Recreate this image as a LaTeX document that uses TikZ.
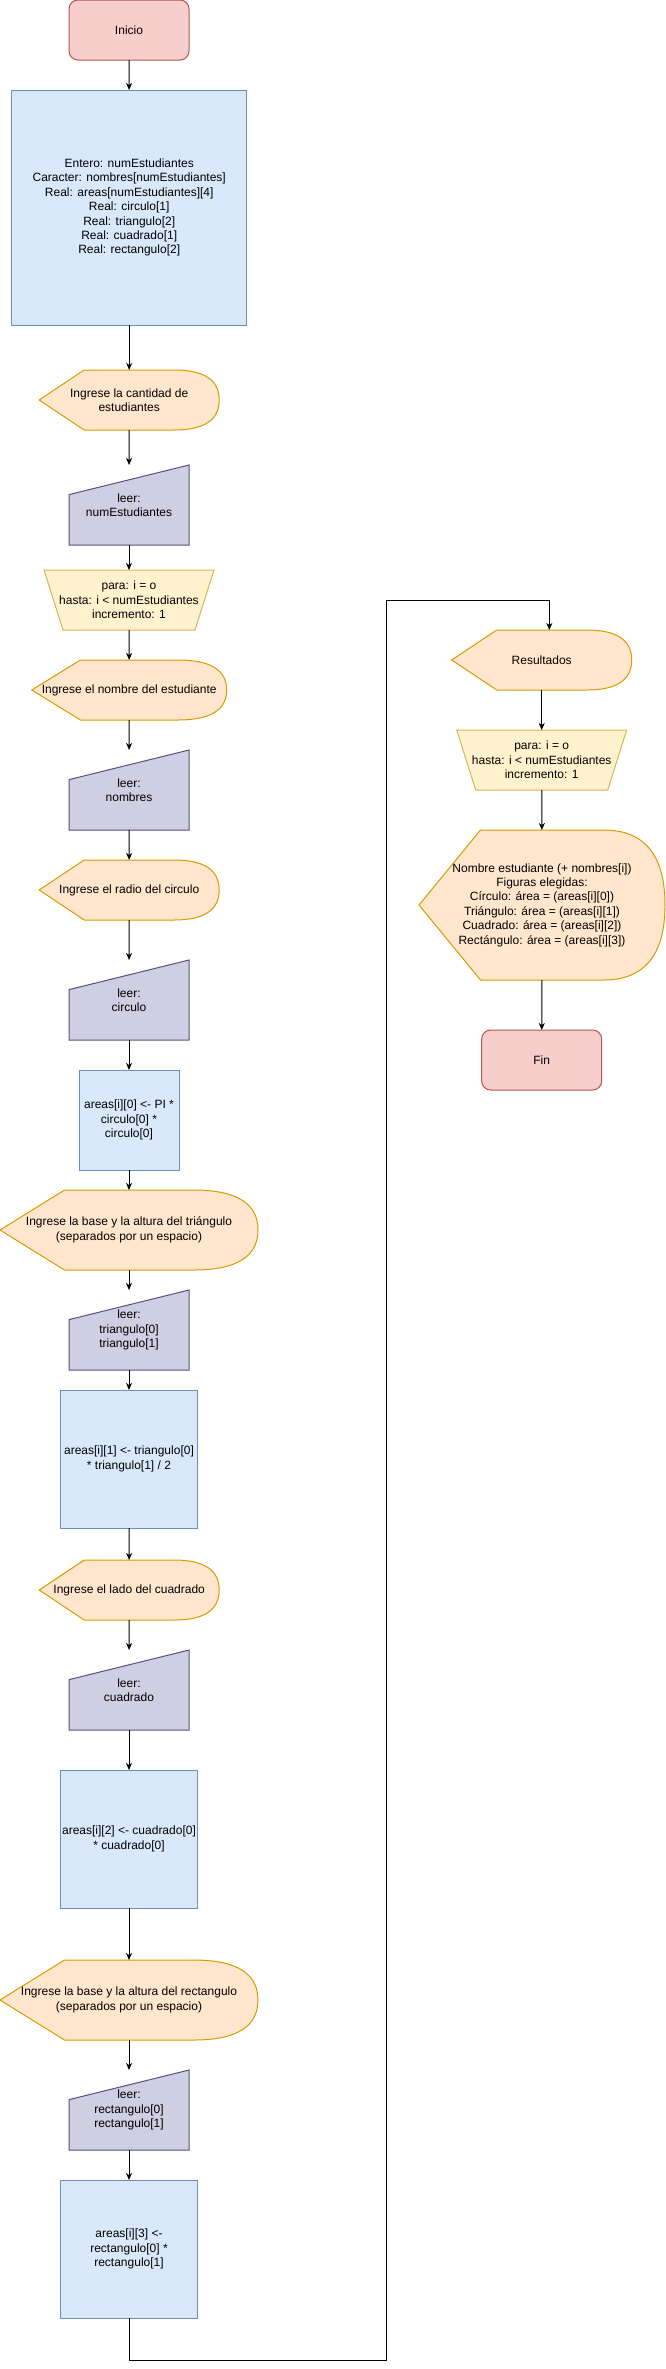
\documentclass[tikz,border=0pt]{standalone}
\usepackage{fontspec}
\setmainfont{Liberation Sans}
\usetikzlibrary{arrows.meta,calc,backgrounds}
\definecolor{redf}{HTML}{F8CECC}\definecolor{redd}{HTML}{B85450}
\definecolor{bluef}{HTML}{DAE8FC}\definecolor{blued}{HTML}{6C8EBF}
\definecolor{oraf}{HTML}{FFE6CC}\definecolor{orad}{HTML}{D79B00}
\definecolor{purf}{HTML}{D0CEE2}\definecolor{purd}{HTML}{56517E}
\definecolor{yelf}{HTML}{FFF2CC}\definecolor{yeld}{HTML}{D6B656}
\tikzset{
  base/.style={inner sep=0pt, outer sep=0pt, align=center, text=black,
    font={\fontsize{12pt}{14.4pt}\selectfont}},
  sz/.style 2 args={minimum width=#1pt, minimum height=#2pt},
  termbox/.style={base, draw=redd, fill=redf, line width=1pt, rounded corners=9pt},
  procbox/.style={base, draw=blued, fill=bluef, line width=1pt},
  dispbox/.style={base},
  manbox/.style={base},
  loopbox/.style={base},
  dispsty/.style={draw=orad, fill=oraf, line width=1pt},
  mansty/.style={draw=purd, fill=purf, line width=1pt},
  loopsty/.style={draw=yeld, fill=yelf, line width=1pt},
  arr/.style={draw=black, line width=1pt, -{Stealth[length=7pt,width=6pt,inset=2pt]}},
}
\newcommand\dispoutline[1]{%
  \path[dispsty] let \p1=(#1.north west), \p2=(#1.south east),
    \n1={0.25*(\x2-\x1)}, \n2={(\y1+\y2)/2} in
    (\x1,\n2) -- (\x1+\n1,\y1) -- (\x2-\n1,\y1)
    .. controls (\x2-\n1/3,\y1) and (\x2,{\y1+(\y2-\y1)/6}) .. (\x2,\n2)
    .. controls (\x2,{\y2-(\y2-\y1)/6}) and (\x2-\n1/3,\y2) .. (\x2-\n1,\y2)
    -- (\x1+\n1,\y2) -- cycle;}
\newcommand\manoutline[1]{%
  \path[mansty] let \p1=(#1.north west), \p2=(#1.south east) in
    (\x1,{\y1-0.37*(\y1-\y2)}) -- (\x2,\y1) -- (\x2,\y2) -- (\x1,\y2) -- cycle;}
\newcommand\loopoutline[1]{%
  \path[loopsty] let \p1=(#1.north west), \p2=(#1.south east) in
    (\x1,\y1) -- (\x2,\y1) -- (\x2-19pt,\y2) -- (\x1+19pt,\y2) -- cycle;}
\begin{document}
\begin{tikzpicture}[x=1pt,y=-1pt]
\useasboundingbox (0,0) rectangle (665,2369);
% left column
\node[termbox, sz={120}{60}] (inicio) at (129,30) {Inicio};
\node[procbox, sz={235}{235}] (decl) at (129.2,207.5) {Entero: numEstudiantes\\Caracter: nombres[numEstudiantes]\\Real: areas[numEstudiantes][4]\\Real: circulo[1]\\Real: triangulo[2]\\Real: cuadrado[1]\\Real: rectangulo[2]};
\node[dispbox, sz={180}{60}] (d1) at (129.2,400) {Ingrese la cantidad de\\estudiantes};
\node[manbox, sz={120}{80}] (m1) at (129,505) {leer:\\numEstudiantes};
\node[loopbox, sz={170}{60}] (loop1) at (129,600) {para: i = o\\hasta: i < numEstudiantes\\incremento: 1};
\node[dispbox, sz={195}{60}] (d2) at (129.2,690) {Ingrese el nombre del estudiante};
\node[manbox, sz={120}{80}] (m2) at (129,790) {leer:\\nombres};
\node[dispbox, sz={180}{60}] (d3) at (129.2,890) {Ingrese el radio del circulo};
\node[manbox, sz={120}{80}] (m3) at (129,1000) {leer:\\circulo};
\node[procbox, sz={100}{100}] (p1) at (129,1120) {areas[i][0] <- PI *\\circulo[0] *\\circulo[0]};
\node[dispbox, sz={258}{80}] (d4) at (129,1230) {Ingrese la base y la altura del triángulo\\(separados por un espacio)};
\node[manbox, sz={120}{80}] (m4) at (129,1330) {leer:\\triangulo[0]\\triangulo[1]};
\node[procbox, sz={137.5}{138}] (p2) at (129,1459) {areas[i][1] <- triangulo[0]\\{}* triangulo[1] / 2};
\node[dispbox, sz={180}{60}] (d5) at (129.2,1590) {Ingrese el lado del cuadrado};
\node[manbox, sz={120}{80}] (m5) at (129,1690) {leer:\\cuadrado};
\node[procbox, sz={137.5}{138}] (p3) at (129,1839) {areas[i][2] <- cuadrado[0]\\{}* cuadrado[0]};
\node[dispbox, sz={258}{80}] (d6) at (129,2000) {Ingrese la base y la altura del rectangulo\\(separados por un espacio)};
\node[manbox, sz={120}{80}] (m6) at (129,2110) {leer:\\rectangulo[0]\\rectangulo[1]};
\node[procbox, sz={137.5}{138}] (p4) at (129,2249) {areas[i][3] <-\\rectangulo[0] *\\rectangulo[1]};
% right column
\node[dispbox, sz={180}{60}] (d7) at (541.7,660) {Resultados};
\node[loopbox, sz={170}{60}] (loop2) at (541.7,760) {para: i = o\\hasta: i < numEstudiantes\\incremento: 1};
\node[dispbox, sz={246}{150}] (d8) at (542,905) {Nombre estudiante (+ nombres[i])\\Figuras elegidas:\\Círculo: área = (areas[i][0])\\Triángulo: área = (areas[i][1])\\Cuadrado: área = (areas[i][2])\\Rectángulo: área = (areas[i][3])};
\node[termbox, sz={120}{60}] (fin) at (541.7,1060) {Fin};
% outlines
\begin{scope}[on background layer]
  \dispoutline{d1}\dispoutline{d2}\dispoutline{d3}\dispoutline{d4}
  \dispoutline{d5}\dispoutline{d6}\dispoutline{d7}\dispoutline{d8}
  \manoutline{m1}\manoutline{m2}\manoutline{m3}\manoutline{m4}
  \manoutline{m5}\manoutline{m6}
  \loopoutline{loop1}\loopoutline{loop2}
\end{scope}
% connectors
\draw[arr] (inicio) -- (decl);
\draw[arr] (decl) -- (d1);
\draw[arr] (d1) -- (m1);
\draw[arr] (m1) -- (loop1);
\draw[arr] (loop1) -- (d2);
\draw[arr] (d2) -- (m2);
\draw[arr] (m2) -- (d3);
\draw[arr] (d3) -- (m3);
\draw[arr] (m3) -- (p1);
\draw[arr] (p1) -- (d4);
\draw[arr] (d4) -- (m4);
\draw[arr] (m4) -- (p2);
\draw[arr] (p2) -- (d5);
\draw[arr] (d5) -- (m5);
\draw[arr] (m5) -- (p3);
\draw[arr] (p3) -- (d6);
\draw[arr] (d6) -- (m6);
\draw[arr] (m6) -- (p4);
\coordinate (c1) at (386,2360);
\coordinate (c2) at (386,600);
\coordinate (c3) at ([xshift=7.6pt]d7.north);
\draw[arr] (p4.south) |- (c1) -- (c2) -| (c3);
\draw[arr] (d7) -- (loop2);
\draw[arr] (loop2) -- (d8);
\draw[arr] (d8) -- (fin);
\end{tikzpicture}
\end{document}
